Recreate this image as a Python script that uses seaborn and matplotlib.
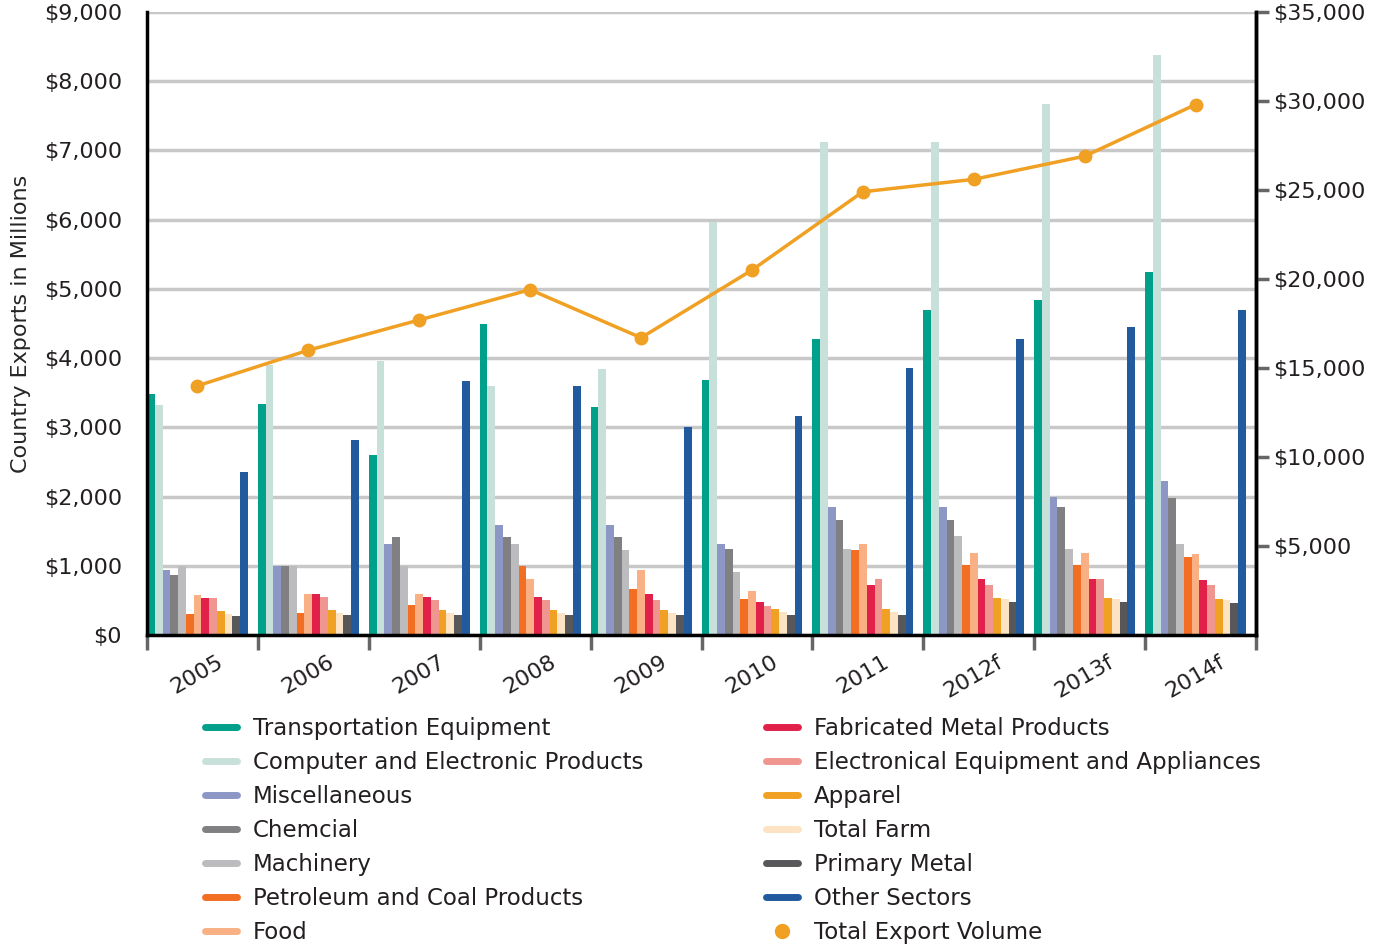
import matplotlib
matplotlib.use("Agg")
import matplotlib.pyplot as plt
from matplotlib.lines import Line2D
import numpy as np
import pandas as pd
import seaborn as sns

years = ["2005", "2006", "2007", "2008", "2009", "2010", "2011", "2012f", "2013f", "2014f"]

sectors = [
    "Transportation Equipment",
    "Computer and Electronic Products",
    "Miscellaneous",
    "Chemcial",
    "Machinery",
    "Petroleum and Coal Products",
    "Food",
    "Fabricated Metal Products",
    "Electronical Equipment and Appliances",
    "Apparel",
    "Total Farm",
    "Primary Metal",
    "Other Sectors",
]

# values in millions
transportation = [3480, 3340, 2600, 4490, 3300, 3690, 4280, 4700, 4840, 5250]
computer = [3320, 3900, 3960, 3600, 3840, 5970, 7120, 7120, 7670, 8380]
miscellaneous = [940, 1000, 1320, 1590, 1590, 1320, 1850, 1850, 1990, 2230]
chemical = [870, 1000, 1420, 1420, 1420, 1240, 1660, 1660, 1850, 1980]
machinery = [990, 1000, 1000, 1320, 1230, 910, 1240, 1430, 1240, 1320]
petroleum = [300, 320, 430, 1000, 670, 520, 1230, 1010, 1010, 1130]
food = [580, 590, 590, 810, 940, 640, 1320, 1190, 1190, 1170]
fabricated = [540, 590, 550, 550, 590, 480, 720, 810, 810, 800]
electronical = [530, 550, 510, 510, 510, 420, 810, 720, 810, 720]
apparel = [350, 360, 360, 360, 360, 380, 380, 540, 540, 520]
total_farm = [300, 320, 320, 320, 320, 330, 330, 520, 520, 510]
primary_metal = [280, 290, 290, 290, 290, 290, 290, 480, 480, 460]
other = [2360, 2820, 3670, 3600, 3010, 3170, 3860, 4280, 4450, 4700]

total_export = [14000, 16000, 17700, 19400, 16700, 20500, 24900, 25600, 26900, 29800]

colors = ["#00A08A", "#C8E0DA", "#8C97C6", "#808083", "#BCBCBE", "#F26E22",
          "#F8B084", "#E2214A", "#EE968F", "#F0A023", "#FBE3C3", "#58585A", "#215B9E"]
line_color = "#F0A023"

series = [transportation, computer, miscellaneous, chemical, machinery, petroleum,
          food, fabricated, electronical, apparel, total_farm, primary_metal, other]

rows = []
for name, vals in zip(sectors, series):
    for y, v in zip(years, vals):
        rows.append({"year": y, "sector": name, "value": v})
df = pd.DataFrame(rows)

sns.set_theme(style="white")
plt.rcParams["font.family"] = ["DejaVu Sans"]
plt.rcParams["text.color"] = "#231F20"

fig = plt.figure(figsize=(13.77, 9.52), dpi=100)
ax = fig.add_axes([147 / 1377, 1 - 635 / 952, 1109 / 1377, 623 / 952])

group_w = 0.91
sns.barplot(data=df, x="year", y="value", hue="sector", order=years,
            hue_order=sectors, palette=colors, width=group_w, gap=0,
            saturation=1, legend=False, ax=ax, errorbar=None, linewidth=0)

ax.set_xlim(-group_w / 2, len(years) - 1 + group_w / 2)
ax.set_ylim(0, 9000)
ax.set_yticks(np.arange(0, 9001, 1000))
ax.set_yticklabels([f"${v:,}" for v in range(0, 9001, 1000)], fontsize=16)
ax.tick_params(axis="y", length=0, pad=18, labelcolor="#231F20")
ax.grid(axis="y", color="#C8C8C8", linewidth=2.5)
ax.set_axisbelow(True)
ax.set_xlabel("")
ax.set_ylabel("Country Exports in Millions", fontsize=16, labelpad=9)

# boundary ticks and rotated year labels
ax.set_xticks(np.arange(len(years) + 1) - group_w / 2)
ax.set_xticklabels([])
ax.tick_params(axis="x", which="major", length=11, width=2.5, color="#666666",
               direction="out", bottom=True)
ax.set_xticks(np.arange(len(years)), minor=True)
ax.set_xticklabels(years, minor=True, rotation=30, fontsize=16, ha="center")
ax.tick_params(axis="x", which="minor", length=0, pad=12, labelcolor="#231F20")

for side in ["left", "bottom", "right"]:
    ax.spines[side].set_color("black")
    ax.spines[side].set_linewidth(2.5)
ax.spines["top"].set_visible(False)

ax2 = ax.twinx()
sns.lineplot(x=np.arange(len(years)), y=total_export, ax=ax2, color=line_color,
             linewidth=2.5, marker="o", markersize=10, markeredgewidth=0)
ax2.set_ylim(0, 35000)
ax2.set_yticks(np.arange(5000, 35001, 5000))
ax2.set_yticklabels([f"${v:,}" for v in range(5000, 35001, 5000)], fontsize=16)
ax2.tick_params(axis="y", length=9, width=2.5, color="#666666", direction="out",
                right=True, labelcolor="#231F20")
for side in ["left", "top", "bottom"]:
    ax2.spines[side].set_visible(False)
ax2.spines["right"].set_color("black")
ax2.spines["right"].set_linewidth(2.5)
ax2.set_xlim(ax.get_xlim())

handles = [Line2D([0], [0], color=c, linewidth=5) for c in colors]
handles.append(Line2D([0], [0], color=line_color, marker="o", linestyle="none", markersize=10))
labels = sectors + ["Total Export Volume"]

leg_kw = dict(frameon=False, fontsize=16.5, handlelength=1.4, handletextpad=0.7,
              labelspacing=0.48, loc="upper left", borderaxespad=0, borderpad=0)
fig.legend(handles[:7], labels[:7], bbox_to_anchor=(205 / 1377, 1 - 717 / 952), **leg_kw)
fig.legend(handles[7:], labels[7:], bbox_to_anchor=(766 / 1377, 1 - 717 / 952), **leg_kw)

fig.savefig("out.png", dpi=100)
